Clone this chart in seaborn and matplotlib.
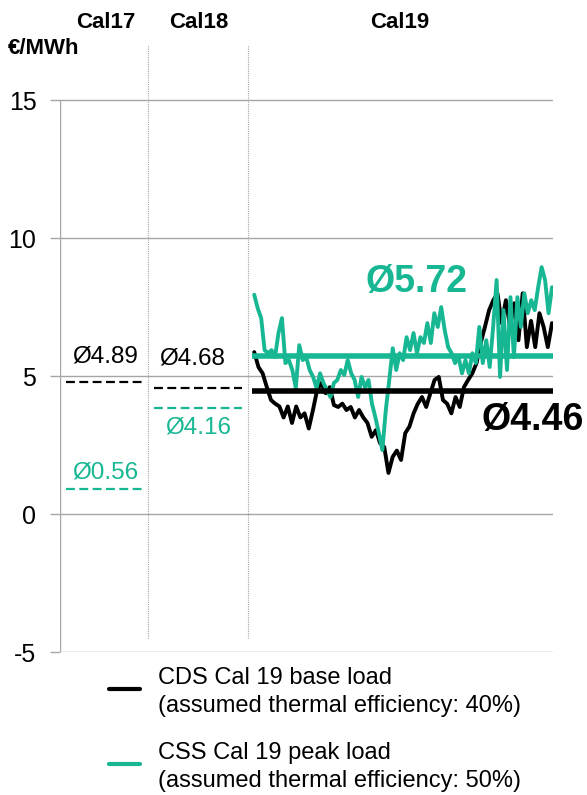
import numpy as np
import pandas as pd
import matplotlib.pyplot as plt
from matplotlib.lines import Line2D
import seaborn as sns

# --- data ---
periods = ["Cal17", "Cal18", "Cal19"]
cds_avg = [4.80, 4.57, 4.46]      # drawn level of the black average lines
css_avg = [0.90, 3.84, 5.72]      # drawn level of the green average lines
cds_avg_labels = ["Ø4.89", "Ø4.68", "Ø4.46"]
css_avg_labels = ["Ø0.56", "Ø4.16", "Ø5.72"]

cds_cal19 = [5.87, 5.33, 5.10, 4.60, 4.13, 4.00, 3.90, 3.50, 3.90, 3.30,
             3.90, 3.50, 3.65, 3.10, 3.77, 4.50, 4.75, 4.38, 4.60, 3.95,
             3.88, 4.00, 3.77, 3.88, 3.50, 3.77, 3.50, 3.30, 2.80, 3.04,
             2.57, 2.43, 1.49, 2.07, 2.30, 1.96, 2.93, 3.17, 3.65, 4.00,
             4.24, 3.88, 4.38, 4.86, 4.97, 4.13, 4.00, 3.65, 4.24, 3.88,
             4.60, 4.86, 5.10, 5.47, 6.20, 6.78, 7.39, 7.75, 8.00, 6.92,
             7.75, 6.78, 7.64, 6.30, 8.00, 6.05, 7.00, 6.05, 7.28, 6.78,
             6.05, 6.92]
css_cal19 = [7.95, 7.46, 7.10, 5.94, 5.83, 5.94, 5.69, 6.56, 7.10, 5.47,
             5.58, 5.22, 4.57, 6.12, 5.58, 5.69, 5.22, 4.97, 4.57, 5.10,
             4.75, 4.49, 4.24, 4.75, 4.86, 5.22, 5.04, 5.58, 5.10, 4.86,
             4.24, 4.97, 4.60, 4.86, 4.00, 3.50, 2.93, 2.32, 3.77, 4.86,
             6.01, 5.22, 5.83, 5.58, 6.41, 5.94, 6.56, 5.83, 6.41, 6.20,
             6.92, 6.20, 7.28, 6.78, 7.50, 6.67, 6.05, 5.83, 5.47, 5.69,
             5.10, 5.58, 5.10, 5.83, 5.47, 6.78, 5.47, 6.30, 5.33, 6.78,
             8.48, 4.97, 7.39, 5.22, 7.86, 5.69, 7.86, 6.78, 8.00, 7.28,
             7.75, 7.39, 8.22, 8.95, 8.48, 7.28, 8.22]

legend_lines = [("CDS Cal 19 base load", "(assumed thermal efficiency: 40%)"),
                ("CSS Cal 19 peak load", "(assumed thermal efficiency: 50%)")]

# --- layout (x axis runs 0..100 across the plot) ---
segments = [(0, 17.85), (17.85, 38.1), (38.1, 100)]
green = "#17b794"
grey = "#a6a6a6"

sns.set_style("white")
plt.rcParams["font.family"] = ["Liberation Sans", "DejaVu Sans"]
plt.rcParams["axes.unicode_minus"] = False
plt.rcParams["text.color"] = "black"
plt.rcParams["ytick.labelcolor"] = "black"

fig = plt.figure(figsize=(5.87, 7.95), dpi=100)
ax = fig.add_axes([60 / 587, 1 - 652 / 795, 493 / 587, 607 / 795])

df_cds = pd.DataFrame({"x": np.linspace(39.4, 99.8, len(cds_cal19)), "y": cds_cal19})
df_css = pd.DataFrame({"x": np.linspace(39.4, 99.8, len(css_cal19)), "y": css_cal19})
sns.lineplot(data=df_cds, x="x", y="y", color="black", lw=2.8, ax=ax, zorder=3)
sns.lineplot(data=df_css, x="x", y="y", color=green, lw=2.8, ax=ax, zorder=4)

# averages
for i, (x0, x1) in enumerate(segments):
    if i < 2:
        ax.hlines(cds_avg[i], x0 + 1.2, x1 - 1.2, color="black", lw=1.6,
                  linestyles=(0, (4, 2)), zorder=3)
        ax.hlines(css_avg[i], x0 + 1.2, x1 - 1.2, color=green, lw=1.6,
                  linestyles=(0, (4, 2)), zorder=3)
    else:
        ax.hlines(cds_avg[i], x0 + 0.8, x1, color="black", lw=4, zorder=5)
        ax.hlines(css_avg[i], x0 + 0.8, x1, color=green, lw=4, zorder=5)

# average labels
ax.text(9.1, 5.72, cds_avg_labels[0], ha="center", va="center", fontsize=17.5)
ax.text(9.1, 1.49, css_avg_labels[0], ha="center", va="center", fontsize=17.5, color=green)
ax.text(26.9, 5.65, cds_avg_labels[1], ha="center", va="center", fontsize=17.5)
ax.text(28.0, 3.12, css_avg_labels[1], ha="center", va="center", fontsize=17.5, color=green)
ax.text(72.4, 8.4, css_avg_labels[2], ha="center", va="center", fontsize=27,
        fontweight="bold", color=green)
ax.text(95.8, 3.4, cds_avg_labels[2], ha="center", va="center", fontsize=27,
        fontweight="bold", color="black", clip_on=False, zorder=6)

# separators and period headers
for (x0, x1) in segments[1:]:
    ax.vlines(x0, -4.5, 17, color=grey, lw=0.8, linestyles=(0, (1, 1)))
centers = [9.3, 28.2, 69.0]
for c, name in zip(centers, periods):
    ax.text(c, 17.8, name, ha="center", va="center", fontsize=16,
            fontweight="bold", clip_on=False)
fig.text(8 / 587, 1 - 48 / 795, "€/MWh", ha="left", va="center", fontsize=16,
         fontweight="bold")

# axes styling
ax.set_xlim(0, 100)
ax.set_ylim(-5, 17)
ax.set_yticks([-5, 0, 5, 10, 15])
ax.set_xticks([])
ax.set_xlabel("")
ax.set_ylabel("")
for s in ax.spines.values():
    s.set_visible(False)
ax.vlines(0, -5, 15, color=grey, lw=1.0, zorder=1)
ax.yaxis.grid(True, color=grey, lw=1.0)
ax.tick_params(axis="y", length=7, color=grey, width=1.0, pad=10, labelsize=18,
               left=True)

# legend, placed by hand
H = 795
for (first, second), col, hy, by in zip(legend_lines, ["black", green],
                                         [689, 764], [684, 759]):
    fig.add_artist(Line2D([109 / 587, 140 / 587], [1 - hy / H] * 2, color=col, lw=3))
    fig.text(158 / 587, 1 - by / H, first, ha="left", va="baseline", fontsize=17)
    fig.text(158 / 587, 1 - (by + 28) / H, second, ha="left", va="baseline", fontsize=17)

fig.savefig("out.png", dpi=100)
